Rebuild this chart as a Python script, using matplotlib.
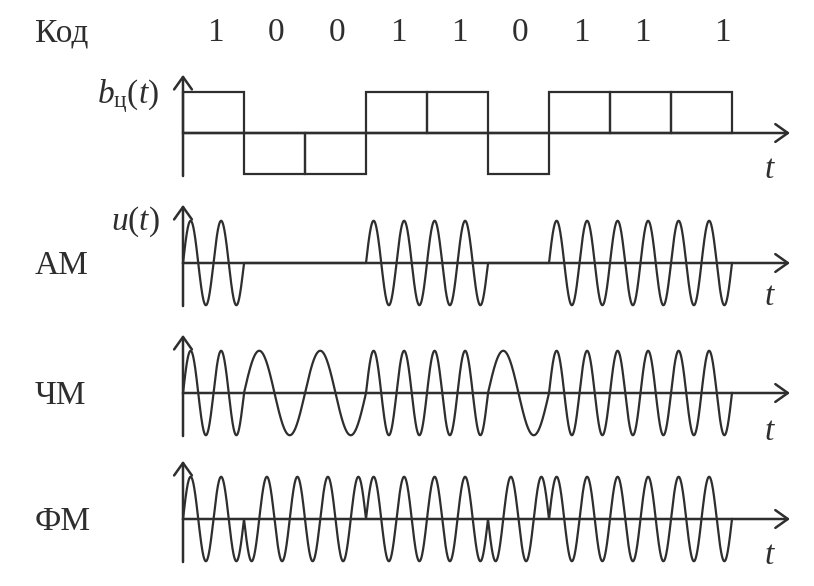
import numpy as np
import matplotlib.pyplot as plt

plt.rcParams['font.family'] = ['Liberation Serif', 'DejaVu Serif']
plt.rcParams['mathtext.fontset'] = 'custom'
plt.rcParams['mathtext.rm'] = 'Liberation Serif'
plt.rcParams['mathtext.it'] = 'Liberation Serif:italic'

# data
bits = [1, 0, 0, 1, 1, 0, 1, 1, 1]
carrier_cycles = 2        # carrier periods per bit (AM, PM, FM for "1")
fm_zero_cycles = 1        # FM periods per bit for "0"
row_labels = ['АМ', 'ЧМ', 'ФМ']

W, H = 814, 586
fig = plt.figure(figsize=(W / 100, H / 100), dpi=100)
ink = '#2e2e2e'
lw = 1.6

x0 = 183          # pixel of t = 0
px_bit = 61       # pixels per bit
unit = 41         # pixels per amplitude unit
xlim = (-x0 / px_bit, (W - x0) / px_bit)
x_end = (790 - x0) / px_bit

arrow = dict(arrowstyle='->,head_length=0.45,head_width=0.32', lw=lw + 0.2,
             color=ink, shrinkA=0, shrinkB=0, mutation_scale=20)


def px(x, y):
    return x / W, 1 - y / H


def panel(yc):
    ax = fig.add_axes([0, 1 - (yc + 1.5 * unit) / H, 1, 3 * unit / H])
    ax.set_xlim(*xlim)
    ax.set_ylim(-1.5, 1.5)
    ax.axis('off')
    ax.annotate('', xy=(0, 1.42), xytext=(0, -1.05), arrowprops=arrow)
    ax.annotate('', xy=(x_end, 0), xytext=(0, 0), arrowprops=arrow)
    return ax


n = len(bits)
t = np.linspace(0, n, n * 600 + 1)
k = np.minimum(t.astype(int), n - 1)
b = np.array(bits)[k]

am = b * np.sin(2 * np.pi * carrier_cycles * t)
f = np.where(b == 1, carrier_cycles, fm_zero_cycles)
fm = np.sin(2 * np.pi * f * (t - k))
pm = (2 * b - 1) * np.sin(2 * np.pi * carrier_cycles * t)

# binary code
ax = panel(133)
ax.bar(np.arange(n), 2 * np.array(bits) - 1, width=1, align='edge',
       fill=False, edgecolor=ink, lw=lw)
fig.text(*px(35, 33), 'Код', fontsize=24, va='center', ha='left', color=ink)
for i, v in enumerate(bits):
    dx = 0.35 if i == n - 1 else 0.03   # last digit sits a bit right in the original
    ax.text(i + 0.5 + dx, 2.44, str(v), fontsize=24, ha='center', va='center', color=ink)
fig.text(*px(97, 103), r'$b_{\mathrm{ц}}(t)$', fontsize=24, va='baseline', ha='left', color=ink)
fig.text(*px(770, 170), r'$t$', fontsize=24, va='center', ha='center', color=ink)

# modulated signals
for yc, sig, name, ty in zip([263, 393, 519], [am, fm, pm], row_labels, [297, 432, 556]):
    ax = panel(yc)
    ax.plot(t, 1.03 * sig, color=ink, lw=lw)
    fig.text(*px(35, yc + 3), name, fontsize=24, va='center', ha='left', color=ink)
    fig.text(*px(770, ty), r'$t$', fontsize=24, va='center', ha='center', color=ink)

fig.text(*px(111, 222), r'$u(t)$', fontsize=24, va='center', ha='left', color=ink)

fig.savefig('out.png', dpi=100, facecolor='white')
